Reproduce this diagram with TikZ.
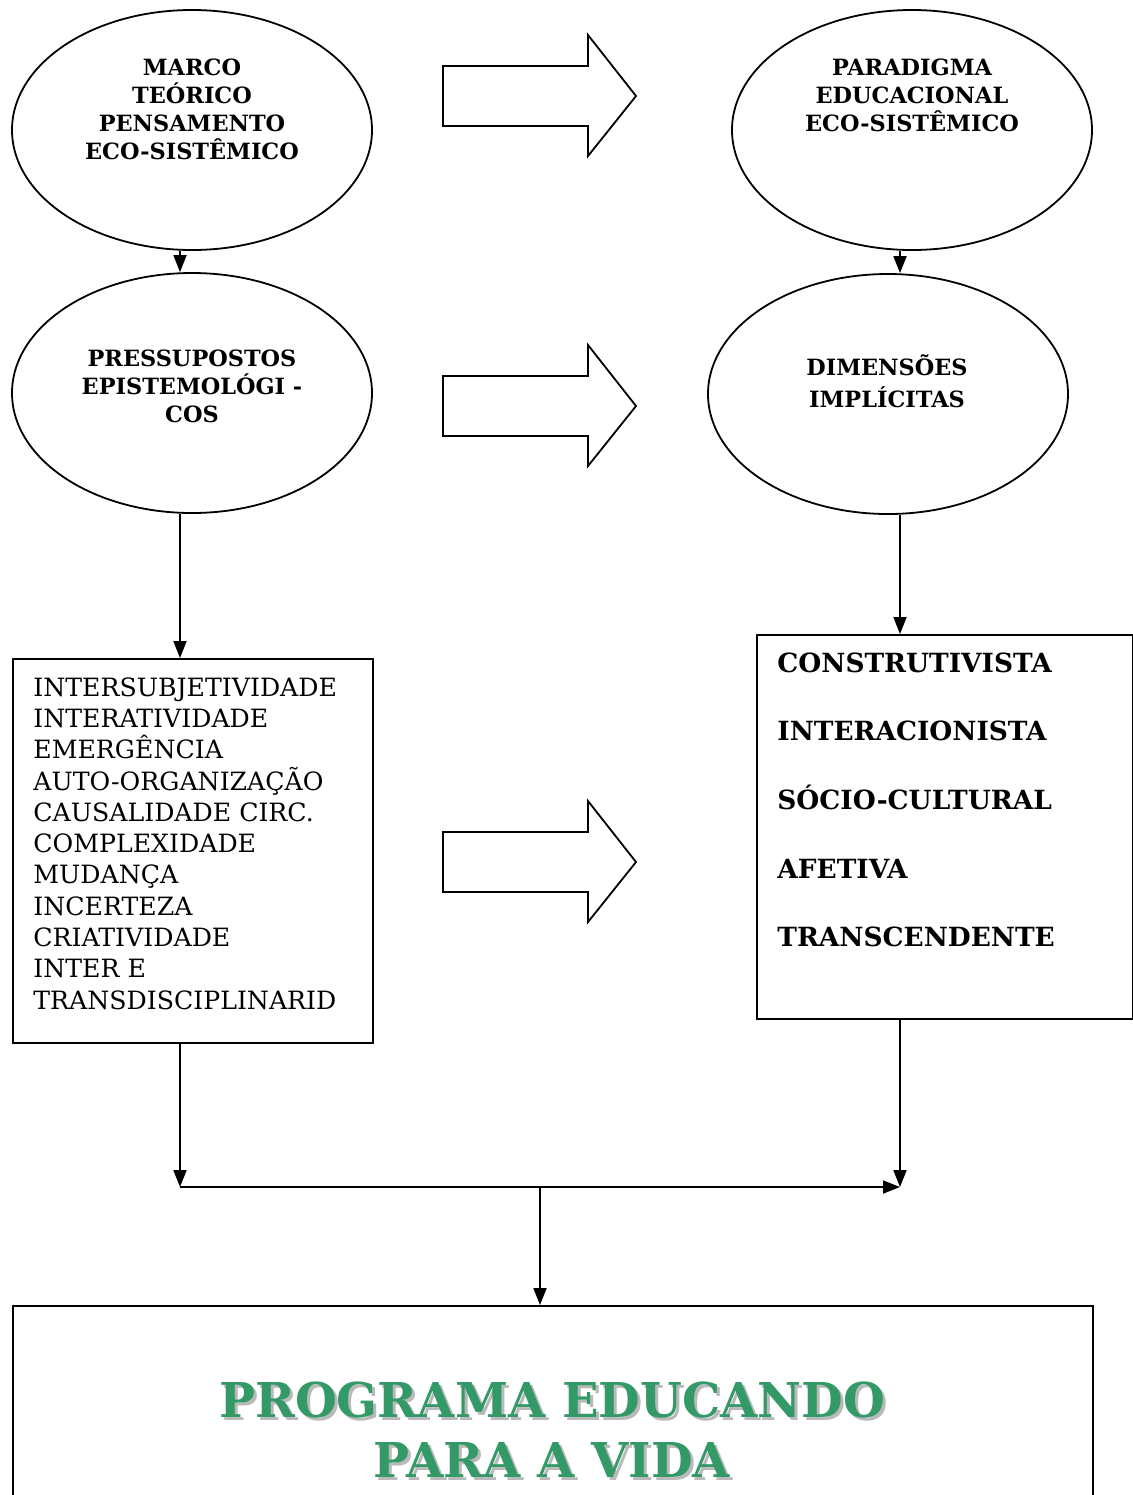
\documentclass[tikz,border=0pt]{standalone}
\usepackage{fontspec}
\setmainfont{DejaVu Serif}
\usetikzlibrary{arrows.meta,shapes,positioning}
\definecolor{progverde}{RGB}{51,153,102}
\definecolor{progsombra}{RGB}{185,185,185}
\tikzstyle{oval} = [draw, ellipse, line width=0.9pt, minimum width=180pt, minimum height=120pt]
\tikzstyle{ovaltext} = [align=center, inner sep=0pt, font=\fontsize{11.2}{14}\selectfont\bfseries]
\tikzstyle{listbox} = [draw, rectangle, line width=0.9pt, anchor=north west, minimum width=180pt, minimum height=192pt]
\tikzstyle{arrow} = [line width=0.9pt, -{Triangle[length=8.5pt,width=6.5pt]}]
\tikzstyle{bigarrow} = [line width=0.9pt, line join=miter]

\begin{document}
\begin{tikzpicture}[x=0.5pt, y=-0.5pt]
\useasboundingbox (0,0) rectangle (1133,1495);
\clip (0,0) rectangle (1133,1495);
% Ellipses
\node[oval] (marco) at (192,130) {};
\node[ovaltext] at (192,109) {MARCO\\TEÓRICO\\PENSAMENTO\\ECO-SISTÊMICO};
\node[oval] (parad) at (912,130) {};
\node[ovaltext] at (912,95) {PARADIGMA\\EDUCACIONAL\\ECO-SISTÊMICO};
\node[oval] (press) at (192,393) {};
\node[ovaltext] at (192,386) {PRESSUPOSTOS\\EPISTEMOLÓGI -\\COS};
\node[oval] (dimen) at (888,394) {};
\node[ovaltext, font=\fontsize{11.2}{16}\selectfont\bfseries] at (887,381) {DIMENSÕES\\IMPLÍCITAS};
% Boxes
\node[listbox] (princ) at (12,658) {};
\node[anchor=north west, align=left, inner sep=0pt, font=\fontsize{12.6}{15.65}\selectfont] at (33,677)
  {INTERSUBJETIVIDADE\\INTERATIVIDADE\\EMERGÊNCIA\\AUTO-ORGANIZAÇÃO\\CAUSALIDADE CIRC.\\COMPLEXIDADE\\MUDANÇA\\INCERTEZA\\CRIATIVIDADE\\INTER E\\TRANSDISCIPLINARID};
\node[listbox, minimum width=188pt] (dims) at (756,634) {};
\node[anchor=north west, align=left, inner sep=0pt, font=\fontsize{13.2}{34.35}\selectfont\bfseries] at (777,652)
  {CONSTRUTIVISTA\\INTERACIONISTA\\SÓCIO-CULTURAL\\AFETIVA\\TRANSCENDENTE};
\node[listbox, minimum width=540pt, minimum height=120pt] (prog) at (12,1305) {};
\node[align=center, inner sep=0pt, text=progsombra, font=\fontsize{24}{30}\selectfont\bfseries] at (555,1433) {PROGRAMA EDUCANDO\\PARA A VIDA};
\node[align=center, inner sep=0pt, text=progverde, font=\fontsize{24}{30}\selectfont\bfseries] (titulo) at (552,1430) {PROGRAMA EDUCANDO\\PARA A VIDA};
% Block arrows
\foreach \yc in {96,406,862}
  \draw[bigarrow] (443,\yc-30) -- (588,\yc-30) -- (588,\yc-61) -- (636,\yc) -- (588,\yc+60) -- (588,\yc+30) -- (443,\yc+30) -- cycle;
% Connectors
\coordinate (jl) at (180,1187);
\coordinate (jr) at (900,1187);
\coordinate (jm) at (540,1187);
\draw[arrow] (marco.south -| jl) -- (press.north -| jl);
\draw[arrow] (parad.south -| jr) -- (dimen.north -| jr);
\draw[arrow] (press.south -| jl) -- (princ.north -| jl);
\draw[arrow] (dimen.south -| jr) -- (dims.north -| jr);
\draw[arrow] (princ.south -| jl) -- (jl);
\draw[arrow] (dims.south -| jr) -- (jr);
\draw[arrow] (jl) -- (jr);
\draw[arrow] (jm) -- (prog.north -| jm);
\end{tikzpicture}
\end{document}
